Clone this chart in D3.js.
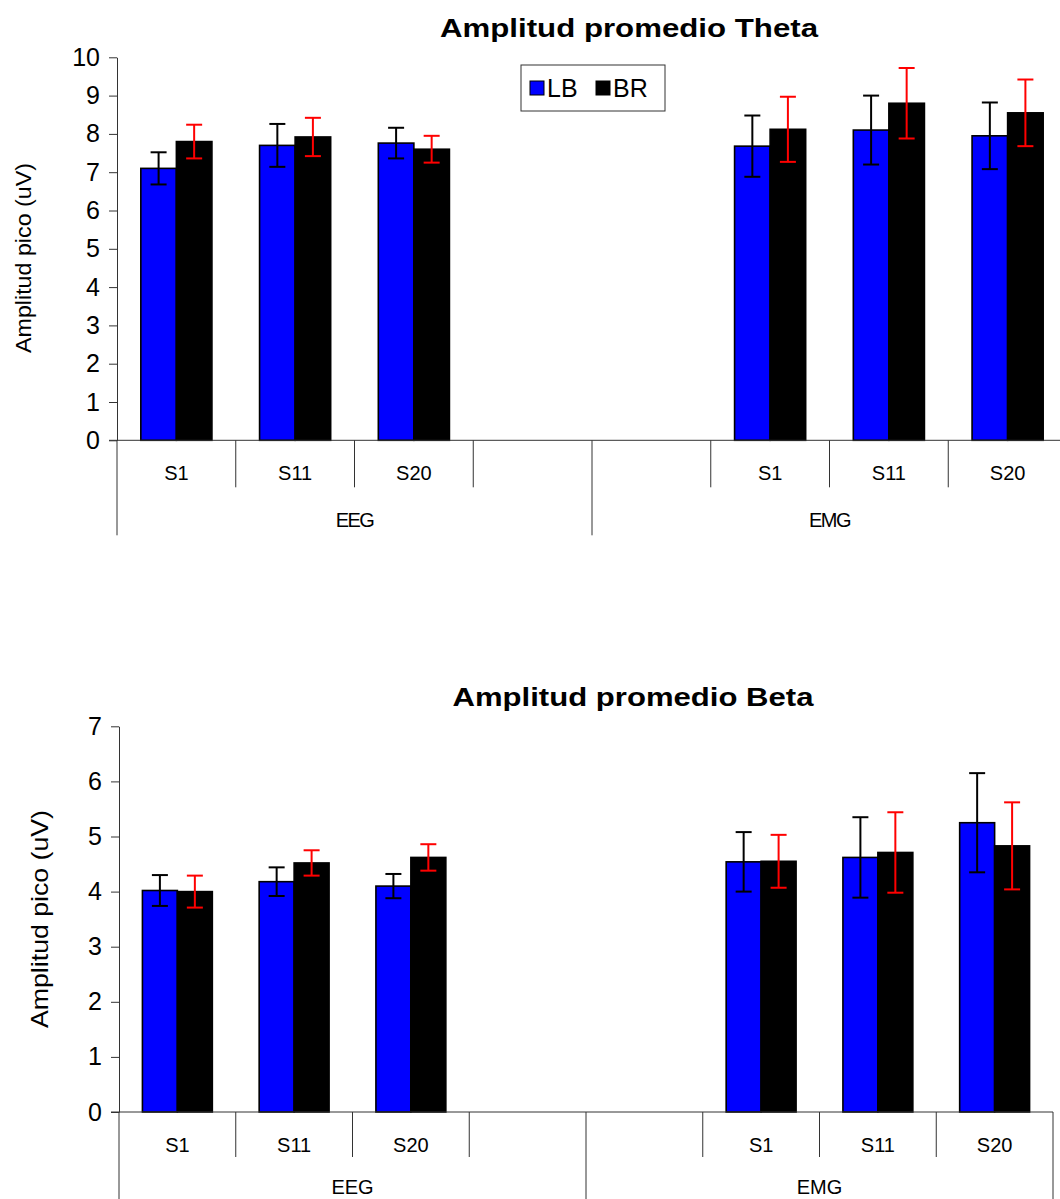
<!DOCTYPE html>
<html>
<head>
<meta charset="utf-8">
<script src="https://cdn.jsdelivr.net/npm/d3@7"></script>
<style>
  body { margin: 0; background: #fff; }
  svg { display: block; font-family: Arial, "Liberation Sans", sans-serif; }
</style>
</head>
<body>
<div id="chart"></div>
<script>
// slots along the category axis (two empty slots between the groups)
const slots = ['S1', 'S11', 'S20', '', '', 'S1', 'S11', 'S20'];
const groups = ['EEG', 'EMG'];
const seriesNames = ['LB', 'BR'];

// Theta
const thetaLB = [7.1, 7.7, 7.76, null, null, 7.68, 8.1, 7.95];
const thetaBR = [7.8, 7.92, 7.6, null, null, 8.12, 8.8, 8.55];
const thetaErrLB = [0.42, 0.56, 0.4, null, null, 0.8, 0.9, 0.87];
const thetaErrBR = [0.44, 0.5, 0.35, null, null, 0.85, 0.92, 0.87];

// Beta
const betaLB = [4.02, 4.18, 4.1, null, null, 4.54, 4.62, 5.25];
const betaBR = [4.0, 4.52, 4.62, null, null, 4.55, 4.71, 4.83];
const betaErrLB = [0.28, 0.26, 0.22, null, null, 0.54, 0.73, 0.9];
const betaErrBR = [0.29, 0.23, 0.24, null, null, 0.48, 0.73, 0.79];

const thetaTicks = [0, 1, 2, 3, 4, 5, 6, 7, 8, 9, 10];
const betaTicks = [0, 1, 2, 3, 4, 5, 6, 7];

const colors = { LB: '#0000ff', BR: '#000000' };
const errColors = { LB: '#000000', BR: '#ff0000' };

const svg = d3.select('#chart').append('svg')
    .attr('width', 1060)
    .attr('height', 1199);

function drawChart(opts) {
    const g = svg.append('g');

    const x = d3.scaleBand().domain(d3.range(slots.length)).range([opts.left, opts.right]).padding(0);
    const xInner = d3.scaleBand().domain(seriesNames).range([0, x.bandwidth()]).paddingInner(0).paddingOuter(0.67);
    const y = d3.scaleLinear().domain([0, d3.max(opts.ticks)]).range([opts.bottom, opts.top]);

    // title
    g.append('text')
        .attr('x', opts.titleX).attr('y', opts.titleY)
        .attr('text-anchor', 'middle')
        .attr('textLength', opts.titleLen).attr('lengthAdjust', 'spacingAndGlyphs')
        .style('font-size', '26px').style('font-weight', 'bold')
        .text(opts.title);

    // y label
    g.append('text')
        .attr('transform', `translate(${opts.yLabelX},${opts.yLabelY}) rotate(-90)`)
        .attr('text-anchor', 'middle')
        .attr('textLength', opts.yLabelLen).attr('lengthAdjust', 'spacingAndGlyphs')
        .style('font-size', opts.yLabelSize + 'px')
        .text('Amplitud pico (uV)');

    // y axis
    const yAxis = g.append('g')
        .attr('transform', `translate(${opts.left},0)`)
        .call(d3.axisLeft(y).tickValues(opts.ticks).tickFormat(d3.format('d'))
            .tickSize(8).tickSizeOuter(0).tickPadding(9));
    yAxis.selectAll('path, line').attr('stroke', '#333');
    yAxis.selectAll('text').style('font-size', opts.tickSize + 'px').attr('fill', '#000');

    // bars
    const series = [
        { name: 'LB', values: opts.lb, errs: opts.errLb },
        { name: 'BR', values: opts.br, errs: opts.errBr }
    ];
    series.forEach(s => {
        const data = s.values.map((v, i) => ({ i, v, e: s.errs[i] })).filter(d => d.v != null);
        g.selectAll(null).data(data).enter().append('rect')
            .attr('x', d => x(d.i) + xInner(s.name))
            .attr('y', d => y(d.v))
            .attr('width', xInner.bandwidth())
            .attr('height', d => y(0) - y(d.v))
            .attr('fill', colors[s.name])
            .attr('stroke', '#000')
            .attr('stroke-width', 1.6);
    });

    // error bars
    series.forEach(s => {
        const data = s.values.map((v, i) => ({ i, v, e: s.errs[i] })).filter(d => d.v != null);
        const eb = g.selectAll(null).data(data).enter().append('g')
            .attr('stroke', errColors[s.name]).attr('stroke-width', 2);
        const cx = d => x(d.i) + xInner(s.name) + xInner.bandwidth() / 2;
        eb.append('line')
            .attr('x1', cx).attr('x2', cx)
            .attr('y1', d => y(d.v + d.e)).attr('y2', d => y(d.v - d.e));
        eb.append('line')
            .attr('x1', d => cx(d) - 8).attr('x2', d => cx(d) + 8)
            .attr('y1', d => y(d.v + d.e)).attr('y2', d => y(d.v + d.e));
        eb.append('line')
            .attr('x1', d => cx(d) - 8).attr('x2', d => cx(d) + 8)
            .attr('y1', d => y(d.v - d.e)).attr('y2', d => y(d.v - d.e));
    });

    // category axis
    const base = opts.bottom;
    g.append('line')
        .attr('x1', opts.left - 8).attr('x2', opts.right)
        .attr('y1', base).attr('y2', base)
        .attr('stroke', '#333');
    d3.range(slots.length + 1).forEach(k => {
        const xx = k < slots.length ? x(k) : opts.right;
        const long = k % 4 === 0;
        g.append('line')
            .attr('x1', xx).attr('x2', xx)
            .attr('y1', base).attr('y2', base + (long ? opts.groupTick : opts.catTick))
            .attr('stroke', '#333');
    });
    g.selectAll(null).data(slots).enter().append('text')
        .attr('x', (d, i) => x(i) + x.bandwidth() / 2)
        .attr('y', base + opts.catLabelDy)
        .attr('text-anchor', 'middle')
        .style('font-size', '20px')
        .text(d => d);
    g.selectAll(null).data(groups).enter().append('text')
        .attr('x', (d, i) => (x(i * 4) + (i === 1 ? opts.right : x(4))) / 2)
        .attr('y', base + opts.groupLabelDy)
        .attr('text-anchor', 'middle')
        .style('font-size', '20px')
        .style('letter-spacing', opts.groupSpacing)
        .text(d => d);

    return { g, x, y };
}

const thetaChart = drawChart({
    title: 'Amplitud promedio Theta', titleX: 629, titleY: 37, titleLen: 378,
    left: 117, right: 1067, top: 57.3, bottom: 440.3,
    ticks: thetaTicks, tickSize: 25,
    yLabelX: 31, yLabelY: 258, yLabelSize: 22, yLabelLen: 190,
    lb: thetaLB, br: thetaBR, errLb: thetaErrLB, errBr: thetaErrBR,
    catTick: 47, groupTick: 95, catLabelDy: 40, groupLabelDy: 87, groupSpacing: '-1.5px'
});

const betaChart = drawChart({
    title: 'Amplitud promedio Beta', titleX: 633, titleY: 706, titleLen: 361,
    left: 119, right: 1053, top: 726.3, bottom: 1112,
    ticks: betaTicks, tickSize: 25,
    yLabelX: 48, yLabelY: 919, yLabelSize: 24, yLabelLen: 218,
    lb: betaLB, br: betaBR, errLb: betaErrLB, errBr: betaErrBR,
    catTick: 45, groupTick: 95, catLabelDy: 40, groupLabelDy: 82, groupSpacing: '0px'
});

// legend (top chart only)
const legend = svg.append('g').attr('transform', 'translate(521,65)');
legend.append('rect')
    .attr('width', 144).attr('height', 46)
    .attr('fill', '#fff').attr('stroke', '#333');
seriesNames.forEach((name, i) => {
    const row = legend.append('g').attr('transform', `translate(${9 + i * 66},16)`);
    row.append('rect').attr('width', 14).attr('height', 14)
        .attr('fill', colors[name]).attr('stroke', '#000');
    row.append('text').attr('x', 17).attr('y', 16)
        .style('font-size', '25px')
        .text(name);
});
</script>
</body>
</html>
